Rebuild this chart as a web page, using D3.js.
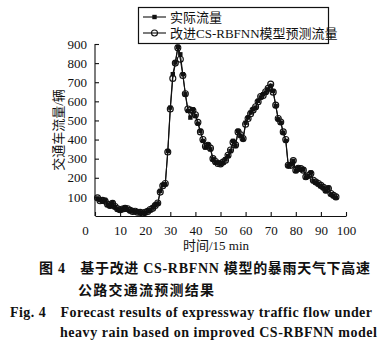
<!DOCTYPE html>
<html>
<head>
<meta charset="utf-8">
<script src="https://cdn.jsdelivr.net/npm/d3@7/dist/d3.min.js"></script>
<style>
  html, body { margin: 0; padding: 0; background: #fff; }
  svg { display: block; }
  .serif { font-family: "Liberation Serif", "Noto Sans CJK SC", serif; }
</style>
</head>
<body>
<svg id="chart" width="390" height="347"></svg>
<script>
// Time index (15-min intervals)
const timeSteps = d3.range(1, 97);

// Observed traffic flow (vehicles)
const actualFlow = [92,84,79,84,58,52,70,47,35,30,35,44,35,26,26,23,23,17,14,17,
  26,31,44,58,65,131,162,166,340,567,742,803,885,846,742,637,550,515,558,523,
  483,445,393,358,375,349,297,279,279,270,279,297,314,340,393,366,445,419,401,488,
  515,541,558,567,602,620,637,646,663,681,654,576,506,488,436,393,262,270,288,236,
  253,244,244,201,209,227,183,175,166,157,148,131,148,113,105,96];

// Improved CS-RBFNN forecast (vehicles)
const predictedFlow = [95,80,82,78,62,55,66,50,38,33,37,40,38,30,24,25,20,19,16,20,
  24,34,40,55,68,125,158,170,335,560,720,800,880,820,735,640,560,555,552,530,
  490,440,400,365,370,355,300,285,275,272,282,292,318,345,385,372,440,425,405,480,
  510,535,555,572,598,625,630,650,668,690,648,580,510,492,440,400,265,265,290,240,
  250,248,240,205,212,222,187,178,170,160,150,135,144,118,108,100];

const xTicks = [0,10,20,30,40,50,60,70,80,90,100];
const yTicks = [100,200,300,400,500,600,700,800,900];
const seriesNames = ["实际流量", "改进CS-RBFNN模型预测流量"];

const svg = d3.select("#chart");
const x = d3.scaleLinear().domain([0, 100]).range([95, 346]);
const y = d3.scaleLinear().domain([0, 900]).range([216, 44]);

// Axes with inward ticks
const xAxis = d3.axisBottom(x).tickValues(xTicks).tickSizeInner(-4).tickSizeOuter(0).tickPadding(10);
const yAxis = d3.axisLeft(y).tickValues(yTicks).tickSizeInner(-4).tickSizeOuter(0).tickPadding(8);

const gx = svg.append("g").attr("transform", `translate(0,${y(0)})`).call(xAxis);
const gy = svg.append("g").attr("transform", `translate(${x(0)},0)`).call(yAxis);
[gx, gy].forEach(g => {
  g.selectAll("path, line").attr("stroke", "#111").attr("stroke-width", 1.1);
  g.selectAll("text").attr("class", "serif").attr("font-size", 13).attr("fill", "#111");
});
// Origin label sits left of the axis corner
gx.selectAll(".tick").filter(d => d === 0).select("text").attr("dx", -10);
// y-axis domain runs from 0 to 900 only
gy.select(".domain").attr("d", `M0,${y(0)}V${y(900)}`);

// Axis titles
svg.append("text")
  .attr("class", "serif")
  .attr("transform", `translate(63,130) rotate(-90)`)
  .attr("text-anchor", "middle")
  .attr("font-size", 13)
  .attr("fill", "#111")
  .text("交通车流量/辆");

svg.append("text")
  .attr("class", "serif")
  .attr("x", 216).attr("y", 250)
  .attr("text-anchor", "middle")
  .attr("font-size", 13)
  .attr("fill", "#111")
  .text("时间/15 min");

// Series lines and markers
const line = d3.line().x((d, i) => x(timeSteps[i])).y(d => y(d));

svg.append("path").datum(actualFlow)
  .attr("d", line).attr("fill", "none").attr("stroke", "#111").attr("stroke-width", 1.1);
svg.append("path").datum(predictedFlow)
  .attr("d", line).attr("fill", "none").attr("stroke", "#111").attr("stroke-width", 1.1);

svg.append("g").selectAll("rect").data(actualFlow).join("rect")
  .attr("x", (d, i) => x(timeSteps[i]) - 2.2)
  .attr("y", d => y(d) - 2.2)
  .attr("width", 4.4).attr("height", 4.4)
  .attr("fill", "#111");

svg.append("g").selectAll("circle").data(predictedFlow).join("circle")
  .attr("cx", (d, i) => x(timeSteps[i]))
  .attr("cy", d => y(d))
  .attr("r", 3)
  .attr("fill", "none")
  .attr("stroke", "#111")
  .attr("stroke-width", 1.1);

// Legend
const legend = svg.append("g");
legend.append("rect")
  .attr("x", 138.5).attr("y", 7.5).attr("width", 190).attr("height", 36)
  .attr("fill", "#fff").attr("stroke", "#111").attr("stroke-width", 1.2);
const rows = [17, 33];
rows.forEach((ry, k) => {
  legend.append("line")
    .attr("x1", 143).attr("x2", 166).attr("y1", ry).attr("y2", ry)
    .attr("stroke", "#111").attr("stroke-width", 1.1);
  if (k === 0) {
    legend.append("rect").attr("x", 152.3).attr("y", ry - 2.2)
      .attr("width", 4.4).attr("height", 4.4).attr("fill", "#111");
  } else {
    legend.append("circle").attr("cx", 154.5).attr("cy", ry).attr("r", 3)
      .attr("fill", "none").attr("stroke", "#111").attr("stroke-width", 1.1);
  }
  legend.append("text")
    .attr("class", "serif")
    .attr("x", 170).attr("y", ry + 4.5)
    .attr("font-size", 13)
    .attr("fill", "#111")
    .text(seriesNames[k]);
});

// Figure caption
const captionLines = [
  { text: "图 4　基于改进 CS-RBFNN 模型的暴雨天气下高速", x: 39, y: 273, len: 331 },
  { text: "公路交通流预测结果", x: 78, y: 295, len: 136 },
  { text: "Fig. 4　Forecast results of expressway traffic flow under", x: 10, y: 317, len: 362 },
  { text: "heavy rain based on improved CS-RBFNN model", x: 60, y: 337, len: 317 }
];
captionLines.forEach(c => {
  svg.append("text")
    .attr("class", "serif")
    .attr("x", c.x).attr("y", c.y)
    .attr("font-size", 14)
    .attr("font-weight", "bold")
    .attr("fill", "#111")
    .attr("textLength", c.len)
    .attr("lengthAdjust", "spacing")
    .text(c.text);
});
</script>
</body>
</html>
